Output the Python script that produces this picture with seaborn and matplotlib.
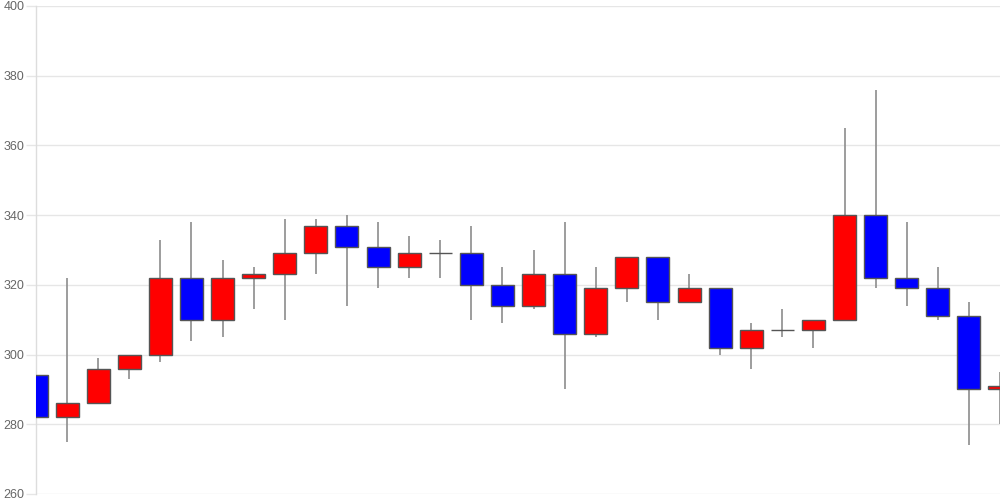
import numpy as np
import pandas as pd
import seaborn as sns
import matplotlib
matplotlib.use("Agg")
import matplotlib.pyplot as plt

# daily candles (open / high / low / close)
opens  = [294, 282, 286, 296, 300, 322, 310, 322, 323, 329, 337, 331, 325, 329, 329, 320,
          314, 323, 306, 319, 328, 315, 319, 302, 307, 307, 310, 340, 322, 319, 311, 290]
highs  = [297, 322, 299, 300, 333, 338, 327, 325, 339, 339, 340, 338, 334, 333, 337, 325,
          330, 338, 325, 328, 328, 323, 319, 309, 313, 310, 365, 376, 338, 325, 315, 295]
lows   = [281, 275, 286, 293, 298, 304, 305, 313, 310, 323, 314, 319, 322, 322, 310, 309,
          313, 290, 305, 315, 310, 315, 300, 296, 305, 302, 310, 319, 314, 310, 274, 280]
closes = [282, 286, 296, 300, 322, 310, 322, 323, 329, 337, 331, 325, 329, 329, 320, 314,
          323, 306, 319, 328, 315, 319, 302, 307, 307, 310, 340, 322, 319, 311, 290, 291]
y_ticks = [260, 280, 300, 320, 340, 360, 380, 400]

df = pd.DataFrame({'open': opens, 'high': highs, 'low': lows, 'close': closes})
df['day'] = np.arange(len(df))
df['bottom'] = df[['open', 'close']].min(axis=1)
df['height'] = (df['close'] - df['open']).abs()
df['color'] = np.where(df['close'] >= df['open'], '#ff0000', '#0000ff')

sns.set_theme(style="white")
plt.rcParams['font.family'] = ['Liberation Sans', 'DejaVu Sans']

fig = plt.figure(figsize=(10, 5), dpi=100)
ax = fig.add_axes([0.036, 0.012, 0.964, 0.976])

# wicks behind the bodies
ax.vlines(df['day'], df['low'], df['high'], color='#8c8c8c', linewidth=1.2, zorder=2)

# bodies
ax.bar(df['day'], df['height'], bottom=df['bottom'], width=0.74,
       color=df['color'], edgecolor='#555555', linewidth=1, zorder=3)

ax.set_xlim(0, 31)
ax.set_ylim(260, 400)
ax.set_yticks(y_ticks)
ax.set_xticks([])
ax.grid(axis='y', color='#e6e6e6', linewidth=1, zorder=0)
ax.set_axisbelow(True)

for side in ['top', 'right', 'bottom']:
    ax.spines[side].set_visible(False)
ax.spines['left'].set_color('#dddddd')
ax.spines['left'].set_linewidth(1)

ax.tick_params(axis='y', left=True, length=7.5, width=1, color='#e6e6e6',
               pad=1, labelsize=9, labelcolor='#666666')

fig.savefig('out.png', dpi=100)
